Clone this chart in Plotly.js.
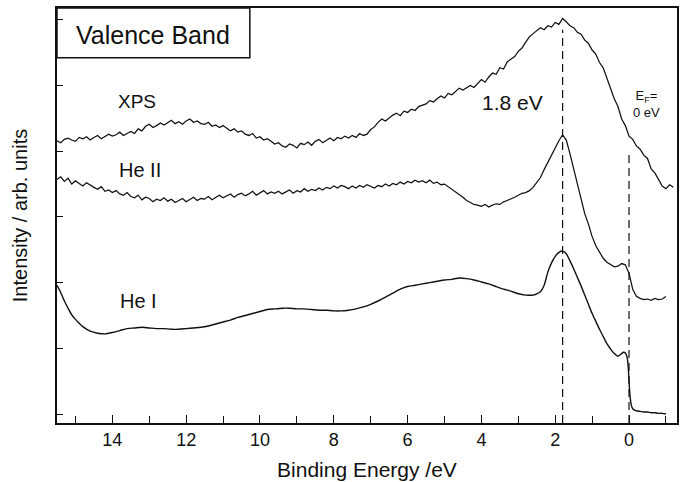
<!DOCTYPE html>
<html>
<head>
<meta charset="utf-8">
<script src="https://cdn.plot.ly/plotly-3.0.1.min.js"></script>
<style>html,body{margin:0;padding:0;background:#fff;}#chart{width:690px;height:482px;}</style>
</head>
<body>
<div id="chart"></div>
<script>
// Binding energy grid (eV) shared by the XPS and He II spectra
const energy = [
15.5,15.4,15.3,15.2,15.1,15.0,14.9,14.8,14.7,14.6,
14.5,14.4,14.3,14.2,14.1,14.0,13.9,13.8,13.7,13.6,
13.5,13.4,13.3,13.2,13.1,13.0,12.9,12.8,12.7,12.6,
12.5,12.4,12.3,12.2,12.1,12.0,11.9,11.8,11.7,11.6,
11.5,11.4,11.3,11.2,11.1,11.0,10.9,10.8,10.7,10.6,
10.5,10.4,10.3,10.2,10.1,10.0,9.9,9.8,9.7,9.6,
9.5,9.4,9.3,9.2,9.1,9.0,8.9,8.8,8.7,8.6,
8.5,8.4,8.3,8.2,8.1,8.0,7.9,7.8,7.7,7.6,
7.5,7.4,7.3,7.2,7.1,7.0,6.9,6.8,6.7,6.6,
6.5,6.4,6.3,6.2,6.1,6.0,5.9,5.8,5.7,5.6,
5.5,5.4,5.3,5.2,5.1,5.0,4.9,4.8,4.7,4.6,
4.5,4.4,4.3,4.2,4.1,4.0,3.9,3.8,3.7,3.6,
3.5,3.4,3.3,3.2,3.1,3.0,2.9,2.8,2.7,2.6,
2.5,2.4,2.3,2.2,2.1,2.0,1.9,1.8,1.7,1.6,
1.5,1.4,1.3,1.2,1.1,1.0,0.9,0.8,0.7,0.6,
0.5,0.4,0.3,0.2,0.1,0.0,-0.1,-0.2,-0.3,-0.4,
-0.5,-0.6,-0.7,-0.8,-0.9,-1.0,-1.1,-1.2];

const xpsIntensity = [
4.16,4.13,4.18,4.20,4.17,4.15,4.21,4.19,4.22,4.17,
4.21,4.24,4.19,4.22,4.26,4.23,4.25,4.29,4.24,4.27,
4.30,4.27,4.34,4.31,4.38,4.41,4.36,4.39,4.43,4.40,
4.43,4.47,4.42,4.45,4.41,4.46,4.49,4.44,4.46,4.42,
4.41,4.44,4.38,4.40,4.36,4.39,4.35,4.31,4.34,4.29,
4.31,4.26,4.24,4.27,4.20,4.22,4.17,4.19,4.15,4.11,
4.13,4.08,4.06,4.11,4.09,4.05,4.12,4.10,4.14,4.09,
4.15,4.18,4.13,4.17,4.20,4.16,4.21,4.19,4.23,4.20,
4.24,4.21,4.27,4.24,4.26,4.33,4.37,4.44,4.49,4.46,
4.51,4.55,4.58,4.54,4.61,4.59,4.64,4.62,4.68,4.70,
4.72,4.77,4.75,4.80,4.84,4.81,4.88,4.86,4.91,4.96,
4.93,4.97,5.00,4.97,5.03,5.09,5.05,5.13,5.19,5.17,
5.27,5.25,5.36,5.40,5.44,5.52,5.57,5.66,5.74,5.79,
5.84,5.88,5.85,5.91,5.89,5.96,5.93,6.02,5.97,5.91,
5.88,5.81,5.78,5.69,5.64,5.54,5.48,5.35,5.27,5.11,
4.98,4.80,4.68,4.49,4.39,4.23,4.18,4.08,4.03,3.94,
3.89,3.73,3.67,3.57,3.47,3.43,3.49,3.45];

const heIIIntensity = [
3.57,3.61,3.54,3.59,3.50,3.55,3.51,3.47,3.52,3.48,
3.45,3.42,3.46,3.39,3.41,3.37,3.40,3.35,3.33,3.37,
3.31,3.29,3.33,3.26,3.30,3.28,3.23,3.27,3.25,3.29,
3.24,3.27,3.22,3.25,3.28,3.23,3.26,3.30,3.25,3.28,
3.27,3.31,3.26,3.30,3.33,3.29,3.32,3.35,3.30,3.34,
3.36,3.32,3.35,3.39,3.33,3.37,3.40,3.35,3.38,3.36,
3.39,3.35,3.38,3.41,3.36,3.40,3.38,3.43,3.39,3.42,
3.40,3.44,3.41,3.45,3.43,3.47,3.44,3.48,3.46,3.43,
3.47,3.44,3.48,3.45,3.49,3.46,3.44,3.48,3.46,3.50,
3.47,3.51,3.49,3.53,3.50,3.54,3.52,3.56,3.53,3.55,
3.52,3.56,3.51,3.53,3.49,3.50,3.46,3.43,3.39,3.35,
3.30,3.25,3.22,3.19,3.18,3.16,3.19,3.15,3.18,3.20,
3.19,3.23,3.25,3.27,3.30,3.33,3.36,3.37,3.40,3.45,
3.52,3.60,3.72,3.83,3.96,4.05,4.16,4.25,4.17,3.96,
3.74,3.53,3.28,3.05,2.89,2.70,2.56,2.47,2.37,2.31,
2.28,2.24,2.25,2.29,2.27,2.14,1.90,1.79,1.76,1.74,
1.75,1.73,1.76,1.74,1.75,1.79];

const heIEnergy = [
15.5,15.4,15.3,15.2,15.1,15.0,14.9,14.8,14.6,14.4,14.2,14.0,13.8,13.6,13.4,13.2,13.0,
12.8,12.6,12.4,12.2,12.0,11.8,11.6,11.4,11.2,11.0,10.8,10.6,10.4,10.2,10.0,9.8,9.6,9.4,
9.2,9.0,8.8,8.6,8.4,8.2,8.0,7.8,7.6,7.4,7.2,7.0,6.8,6.6,6.4,6.2,6.0,5.8,5.6,5.4,5.2,5.0,
4.8,4.6,4.4,4.2,4.0,3.8,3.6,3.4,3.2,3.0,2.8,2.6,2.5,2.4,2.3,2.2,2.1,2.0,1.9,1.8,1.7,1.6,
1.5,1.4,1.3,1.2,1.1,1.0,0.9,0.8,0.7,0.6,0.5,0.4,0.3,0.2,0.15,0.1,0.05,0.02,0.0,-0.03,
-0.06,-0.1,-0.15,-0.2,-0.3,-0.4,-0.5,-0.6,-0.7,-0.8,-0.9,-1.0];

const heIIntensity = [
1.96,1.85,1.72,1.61,1.51,1.44,1.38,1.33,1.26,1.23,1.22,1.24,1.27,1.30,1.31,1.32,1.31,
1.30,1.30,1.29,1.29,1.30,1.31,1.32,1.34,1.37,1.40,1.43,1.47,1.50,1.53,1.56,1.59,1.60,1.61,
1.61,1.60,1.60,1.59,1.58,1.58,1.57,1.57,1.58,1.60,1.63,1.67,1.72,1.78,1.84,1.90,1.94,1.96,1.98,2.00,2.02,2.04,
2.05,2.07,2.06,2.04,2.01,1.98,1.94,1.90,1.87,1.83,1.81,1.81,1.83,1.86,1.96,2.16,2.30,2.40,2.46,2.48,2.44,2.33,
2.21,2.08,1.95,1.81,1.67,1.53,1.41,1.29,1.18,1.07,0.99,0.92,0.88,0.92,0.94,0.93,0.86,0.70,0.50,0.26,
0.14,0.08,0.06,0.05,0.04,0.03,0.03,0.02,0.02,0.01,0.01,0.00];

const seriesLabels = ['XPS', 'He II', 'He I'];
const markerEnergies = [1.8, 0];   // valence-band peak and Fermi level
const peakLabel = '1.8 eV';
const fermiLabel = 'E<sub>F</sub>=<br>0 eV';

const FONT = 'Liberation Sans, Arial, Helvetica, sans-serif';
const lineStyle = {color: '#111', width: 1.25};

const traces = [
  {x: energy, y: xpsIntensity, type: 'scatter', mode: 'lines', line: lineStyle, hoverinfo: 'skip', name: seriesLabels[0]},
  {x: energy.slice(0, heIIIntensity.length), y: heIIIntensity, type: 'scatter', mode: 'lines', line: lineStyle, hoverinfo: 'skip', name: seriesLabels[1]},
  {x: heIEnergy, y: heIIntensity, type: 'scatter', mode: 'lines', line: {color: '#111', width: 1.4, shape: 'spline', smoothing: 0.7}, hoverinfo: 'skip', name: seriesLabels[2]}
];

const layout = {
  width: 690, height: 482,
  margin: {l: 57, r: 13, t: 8, b: 59},
  paper_bgcolor: '#fff', plot_bgcolor: '#fff',
  showlegend: false,
  font: {family: FONT, color: '#111'},
  xaxis: {
    range: [15.5, -1.3], autorange: false,
    tick0: 0, dtick: 2, ticks: 'inside', ticklen: 8, tickwidth: 1, tickcolor: '#111',
    minor: {dtick: 1, ticks: 'inside', ticklen: 7, tickwidth: 1, tickcolor: '#111'},
    showline: true, linewidth: 1.8, linecolor: '#111', mirror: true,
    showgrid: false, zeroline: false,
    tickfont: {family: FONT, size: 18, color: '#111'},
    ticklabelstandoff: 0,
    title: {text: 'Binding Energy /eV', font: {family: FONT, size: 21, color: '#111'}, standoff: 13}
  },
  yaxis: {
    range: [-0.137, 6.18], autorange: false,
    tick0: 0, dtick: 1, ticks: 'inside', ticklen: 6, tickwidth: 1, tickcolor: '#111',
    showticklabels: false,
    showline: true, linewidth: 1.8, linecolor: '#111', mirror: true,
    showgrid: false, zeroline: false,
    title: {text: 'Intensity / arb. units', font: {family: FONT, size: 20, color: '#111'}, standoff: 22}
  },
  shapes: [
    {type: 'rect', xref: 'paper', yref: 'paper', x0: 0, x1: 0.311, y0: 0.88, y1: 1,
     line: {color: '#111', width: 1.5}, fillcolor: 'rgba(0,0,0,0)', layer: 'above'},
    {type: 'line', xref: 'x', yref: 'y', x0: markerEnergies[0], x1: markerEnergies[0], y0: -0.137, y1: 5.85,
     line: {color: '#111', width: 1.2, dash: '8px,5px'}},
    {type: 'line', xref: 'x', yref: 'y', x0: markerEnergies[1], x1: markerEnergies[1], y0: -0.137, y1: 3.97,
     line: {color: '#111', width: 1.2, dash: '8px,5px'}}
  ],
  annotations: [
    {xref: 'paper', yref: 'paper', x: 0.155, y: 0.935, text: 'Valence Band', showarrow: false,
     font: {family: FONT, size: 25, color: '#111'}, xanchor: 'center', yanchor: 'middle'},
    {xref: 'x', yref: 'y', x: 13.32, y: 4.76, text: seriesLabels[0], showarrow: false,
     font: {family: FONT, size: 19, color: '#111'}, xanchor: 'center', yanchor: 'middle'},
    {xref: 'x', yref: 'y', x: 13.25, y: 3.72, text: seriesLabels[1], showarrow: false,
     font: {family: FONT, size: 20, color: '#111'}, xanchor: 'center', yanchor: 'middle'},
    {xref: 'x', yref: 'y', x: 13.29, y: 1.72, text: seriesLabels[2], showarrow: false,
     font: {family: FONT, size: 20, color: '#111'}, xanchor: 'center', yanchor: 'middle'},
    {xref: 'x', yref: 'y', x: 3.16, y: 4.74, text: peakLabel, showarrow: false,
     font: {family: FONT, size: 21, color: '#111'}, xanchor: 'center', yanchor: 'middle'},
    {xref: 'x', yref: 'y', x: -0.46, y: 4.72, text: fermiLabel, showarrow: false, align: 'center',
     font: {family: FONT, size: 13, color: '#111'}, xanchor: 'center', yanchor: 'middle'}
  ]
};

Plotly.newPlot('chart', traces, layout, {displayModeBar: false, staticPlot: true});
</script>
</body>
</html>
